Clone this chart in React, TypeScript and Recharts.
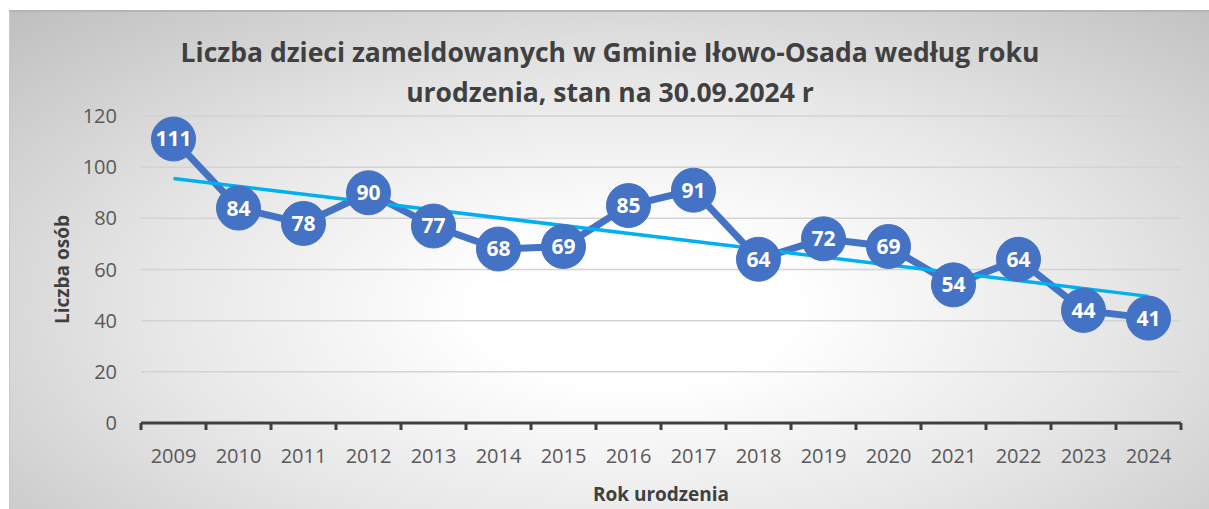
import { CartesianGrid, Label, LabelList, Line, LineChart, XAxis, YAxis } from "recharts";

const YEARS = [
  "2009", "2010", "2011", "2012", "2013", "2014", "2015", "2016",
  "2017", "2018", "2019", "2020", "2021", "2022", "2023", "2024",
];
const CHILDREN = [111, 84, 78, 90, 77, 68, 69, 85, 91, 64, 72, 69, 54, 64, 44, 41];
// linear trend end points
const TREND_START = 95.6;
const TREND_END = 49.5;
const Y_TICKS = [0, 20, 40, 60, 80, 100, 120];

const TITLE_1 = "Liczba dzieci zameldowanych w Gminie Iłowo-Osada według roku";
const TITLE_2 = "urodzenia, stan na 30.09.2024 r";

const W = 1200;
const H = 499;
const MARGIN = { top: 106, right: 28, bottom: 0, left: 0 };
const Y_AXIS_W = 132;
const X_AXIS_H = 86;
const FONT = "'Open Sans', sans-serif";
const TEXT = "#595959";

const data = YEARS.map((year, i) => ({
  year,
  children: CHILDREN[i],
  trend: i === 0 ? TREND_START : i === YEARS.length - 1 ? TREND_END : null,
}));

const band = (W - Y_AXIS_W - MARGIN.right) / YEARS.length;

const YearTick = (props: any) => {
  const { x, y, payload, index } = props;
  return (
    <g>
      <line x1={x - band / 2} x2={x - band / 2} y1={y} y2={y + 7} stroke="#404040" strokeWidth={3} />
      {index === YEARS.length - 1 && (
        <line x1={x + band / 2} x2={x + band / 2} y1={y} y2={y + 7} stroke="#404040" strokeWidth={3} />
      )}
      <text
        x={x}
        y={y + 32}
        textAnchor="middle"
        dominantBaseline="central"
        fill={TEXT}
        fontSize={20}
        fontFamily={FONT}
      >
        {payload.value}
      </text>
    </g>
  );
};

export default function App() {
  return (
    <div
      style={{
        position: "absolute",
        left: 9,
        top: 10,
        width: W,
        height: H,
        boxSizing: "border-box",
        borderTop: "2px solid #b5b5b5",
        borderLeft: "1px solid #c8c8c8",
        background:
          "radial-gradient(ellipse farthest-corner at 52% 60%, #ffffff 0%, #ffffff 18%, #e6e6e6 55%, #bfbfbf 100%)",
        fontFamily: FONT,
      }}
    >
      <div
        style={{
          position: "absolute",
          left: 0,
          width: W,
          top: 20,
          textAlign: "center",
          fontWeight: 700,
          fontSize: 26.5,
          lineHeight: "40px",
          color: "#404040",
        }}
      >
        <div>{TITLE_1}</div>
        <div>{TITLE_2}</div>
      </div>
      <div style={{ position: "absolute", left: -1, top: -2 }}>
        <LineChart width={W} height={H} data={data} margin={MARGIN}>
          <CartesianGrid vertical={false} stroke="#d3d3d3" strokeWidth={1.5} />
          <XAxis
            dataKey="year"
            height={X_AXIS_H}
            padding={{ left: band / 2, right: band / 2 }}
            tickSize={0}
            tickMargin={0}
            tickLine={false}
            axisLine={{ stroke: "#404040", strokeWidth: 3 }}
            tick={<YearTick />}
            interval={0}
          >
            <Label
              value="Rok urodzenia"
              position="insideBottom"
              offset={8}
              fill="#404040"
              fontSize={19}
              fontWeight={700}
              fontFamily={FONT}
            />
          </XAxis>
          <YAxis
            width={Y_AXIS_W}
            domain={[0, 120]}
            ticks={Y_TICKS}
            axisLine={false}
            tickLine={false}
            tickMargin={18}
            tick={{ fill: TEXT, fontSize: 20, fontFamily: FONT }}
          >
            <Label
              value="Liczba osób"
              angle={-90}
              position="insideLeft"
              offset={53}
              fill="#404040"
              fontSize={19}
              fontWeight={700}
              fontFamily={FONT}
              style={{ textAnchor: "middle" }}
            />
          </YAxis>
          <Line
            dataKey="children"
            stroke="#4472C4"
            strokeWidth={7}
            dot={{ r: 22, fill: "#4472C4", stroke: "#4472C4", strokeWidth: 1 }}
            activeDot={false}
            isAnimationActive={false}
          >
            <LabelList
              dataKey="children"
              position="center"
              fill="#ffffff"
              fontSize={21}
              fontWeight={700}
              fontFamily={FONT}
            />
          </Line>
          <Line
            dataKey="trend"
            stroke="#00B0F0"
            strokeWidth={3.5}
            dot={false}
            activeDot={false}
            connectNulls
            isAnimationActive={false}
          />
        </LineChart>
      </div>
    </div>
  );
}
